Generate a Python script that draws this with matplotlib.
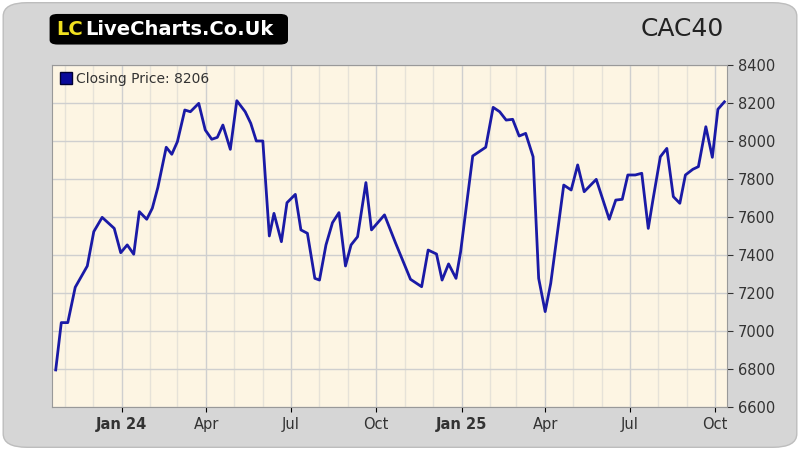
import numpy as np
import matplotlib
matplotlib.use('Agg')
import matplotlib.pyplot as plt
import matplotlib.dates as mdates
from matplotlib.patches import FancyBboxPatch

# days since 2024-01-01 and closing prices
days = [-71, -65, -58, -50, -37, -30, -21, -8, -1, 6, 13, 19, 27, 33, 39, 48, 54, 60,
        68, 74, 83, 90, 97, 103, 109, 117, 124, 133, 139, 145, 152, 159, 164, 172, 178,
        187, 193, 200, 208, 213, 220, 227, 234, 241, 247, 254, 263, 269, 283, 295, 311,
        323, 330, 339, 345, 352, 360, 365, 372, 378, 392, 400, 407, 414, 421, 428, 435,
        443, 449, 456, 462, 476, 484, 491, 498, 511, 525, 532, 539, 545, 553, 560, 567,
        572, 580, 587, 594, 601, 607, 615, 621, 629, 636, 642, 649]
prices = [6795, 7044, 7044, 7230, 7342, 7523, 7598, 7540, 7412, 7453, 7404, 7628, 7588,
          7646, 7756, 7967, 7930, 7996, 8163, 8154, 8198, 8058, 8009, 8019, 8084, 7956,
          8212, 8154, 8093, 8000, 8000, 7500, 7619, 7470, 7675, 7719, 7532, 7514, 7277,
          7268, 7453, 7570, 7623, 7342, 7453, 7496, 7781, 7532, 7611, 7462, 7272, 7233,
          7426, 7405, 7268, 7353, 7277, 7418, 7689, 7921, 7967, 8177, 8154, 8110, 8114,
          8026, 8040, 7917, 7277, 7102, 7251, 7768, 7742, 7874, 7733, 7798, 7588, 7689,
          7693, 7821, 7821, 7830, 7540, 7689, 7917, 7961, 7707, 7672, 7821, 7851, 7865,
          8075, 7914, 8167, 8206]
title = 'CAC40'
tick_dates = ['2024-01-01', '2024-04-01', '2024-07-01', '2024-10-01',
              '2025-01-01', '2025-04-01', '2025-07-01', '2025-10-01']
tick_labels = ['Jan 24', 'Apr', 'Jul', 'Oct', 'Jan 25', 'Apr', 'Jul', 'Oct']

dates = np.datetime64('2024-01-01') + np.array(days).astype('timedelta64[D]')

fig = plt.figure(figsize=(8, 4.5), dpi=100)
fig.patch.set_facecolor('white')
bg = FancyBboxPatch((0.004, 0.006), 0.992, 0.988, boxstyle='round,pad=0,rounding_size=0.03',
                    transform=fig.transFigure, facecolor='#d6d6d6', edgecolor='#bdbdbd', lw=1,
                    zorder=-10)
fig.patches.append(bg)

ax = fig.add_axes([0.065, 0.0956, 0.844, 0.76])
ax.set_zorder(5)
ax.set_facecolor('#fdf5e3')
ax.plot(dates, prices, color='#1a1aa6', lw=2)

ax.set_ylim(6600, 8400)
ax.set_yticks(range(6600, 8401, 200))
ax.yaxis.tick_right()
ax.tick_params(axis='y', labelsize=10.5, colors='#333333', length=4)
ax.set_xlim(np.datetime64('2023-10-18'), np.datetime64('2025-10-14'))
ax.set_xticks([np.datetime64(d) for d in tick_dates])
ax.set_xticklabels(tick_labels, fontsize=10.5, color='#333333')
for lab in ax.get_xticklabels():
    if lab.get_text().startswith('Jan'):
        lab.set_fontweight('bold')
ax.xaxis.set_minor_locator(mdates.MonthLocator())
ax.tick_params(axis='x', which='minor', length=0)
ax.grid(True, which='major', color='#cfcfcf', lw=1)
ax.grid(True, which='minor', axis='x', color='#e6e2d8', lw=1)
ax.set_axisbelow(True)
for s in ax.spines.values():
    s.set_color('#999999')

# legend
ax.plot([], [], 's', color='#0a0a9a', mec='#000033', ms=8, label='Closing Price: %d' % prices[-1])
leg = ax.legend(loc='upper left', frameon=False, fontsize=10, handletextpad=0.2,
                borderaxespad=0.1, handlelength=1)
for t in leg.get_texts():
    t.set_color('#333333')

fig.text(0.905, 0.935, title, fontsize=18, color='#222222', ha='right', va='center')

logo = FancyBboxPatch((0.066, 0.905), 0.29, 0.06, boxstyle='round,pad=0.004,rounding_size=0.01',
                      transform=fig.transFigure, facecolor='black', edgecolor='none')
fig.patches.append(logo)
fig.text(0.07, 0.935, 'LC', fontsize=14, color='#f0e020', fontweight='bold', va='center')
fig.text(0.107, 0.935, 'LiveCharts.Co.Uk', fontsize=14, color='white', fontweight='bold', va='center')

fig.savefig('out.png', dpi=100)
